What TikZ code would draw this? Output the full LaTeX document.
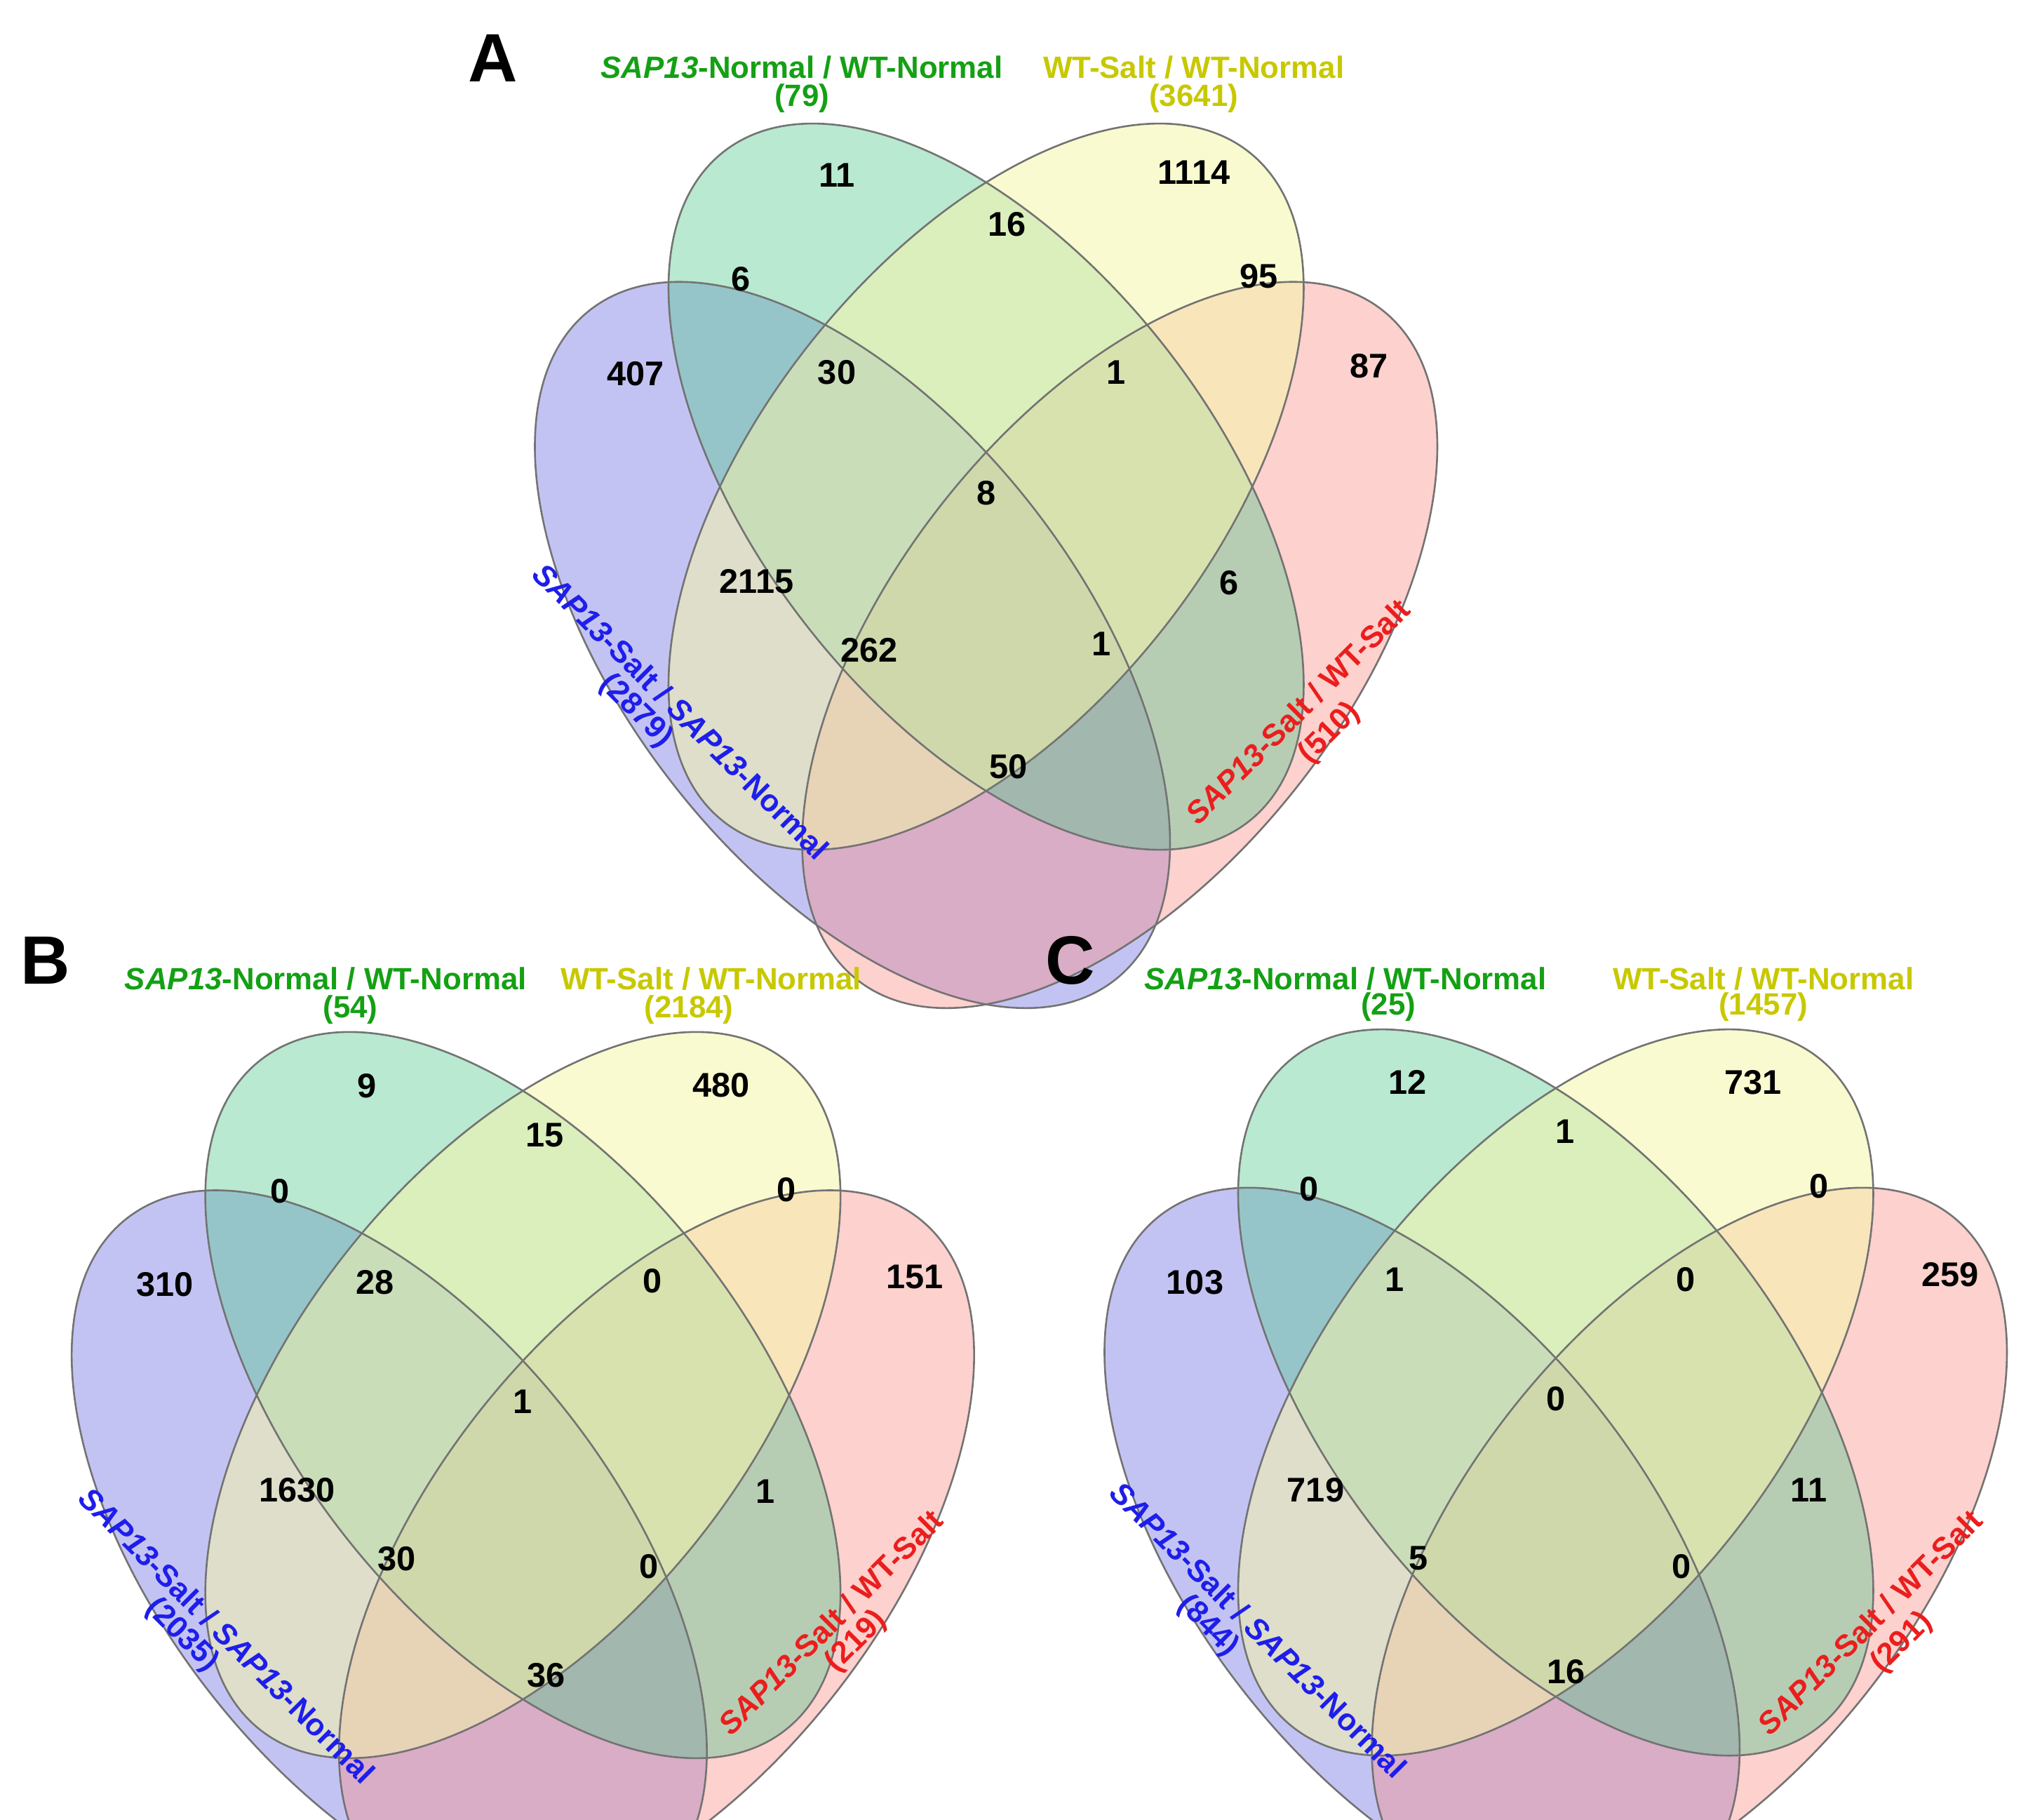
\documentclass[tikz,border=0pt]{standalone}
\usepackage{fontspec}
\setmainfont{Liberation Sans}
\begin{document}
\begin{tikzpicture}[x=0.02cm,y=-0.02cm,
  num/.style={font=\bfseries\fontsize{15}{17}\selectfont},
  lab/.style={font=\bfseries\fontsize{13.5}{15}\selectfont,inner sep=0pt},
  letter/.style={font=\bfseries\fontsize{30}{32}\selectfont},
  ell/.style={fill opacity=0.4},
  edge/.style={draw=black!55,line width=0.8pt},
]
\definecolor{cB}{RGB}{105,105,225}
\definecolor{cG}{RGB}{80,200,140}
\definecolor{cY}{RGB}{245,245,170}
\definecolor{cR}{RGB}{250,140,130}
\definecolor{tG}{RGB}{20,160,20}
\definecolor{tY}{RGB}{200,200,0}
\definecolor{tB}{RGB}{30,30,235}
\definecolor{tR}{RGB}{235,30,30}
\useasboundingbox (0,0) rectangle (1563,1402);
\newcommand{\vennshapes}{%
  \fill[ell,cB] [shift={(-103,117)},rotate=-51.9] (0,0) ellipse [x radius=6.56cm,y radius=3.5cm];
  \fill[ell,cR] [shift={(103,117)},rotate=51.9] (0,0) ellipse [x radius=6.56cm,y radius=3.5cm];
  \fill[ell,cG] [shift={(0,-5)},rotate=-51.9] (0,0) ellipse [x radius=6.56cm,y radius=3.5cm];
  \fill[ell,cY,fill opacity=0.55] [shift={(0,-5)},rotate=51.9] (0,0) ellipse [x radius=6.56cm,y radius=3.5cm];
  \draw[edge] [shift={(-103,117)},rotate=-51.9] (0,0) ellipse [x radius=6.56cm,y radius=3.5cm];
  \draw[edge] [shift={(103,117)},rotate=51.9] (0,0) ellipse [x radius=6.56cm,y radius=3.5cm];
  \draw[edge] [shift={(0,-5)},rotate=-51.9] (0,0) ellipse [x radius=6.56cm,y radius=3.5cm];
  \draw[edge] [shift={(0,-5)},rotate=51.9] (0,0) ellipse [x radius=6.56cm,y radius=3.5cm];
}
\newcommand{\vennnums}[2]{%
  \foreach \n/\x/\y [count=\i] in {#2}{\node[num] (#1n\i) at (\x,\y) {\n};}
}
% Panel A
\begin{scope}[shift={(760,380)}]
\vennshapes
\vennnums{A}{11/-115/-245,16/16/-207,1114/160/-247,6/-189/-165,30/-115/-93,1/100/-93,95/210/-167,407/-270/-92,87/295/-98,8/0/0,2115/-177/68,6/187/69,262/-90/121,1/89/116,50/17/211}
\node[lab,tG] (Ag1) at (-142,-328) {\textit{SAP13}-Normal / WT-Normal};
\node[lab,tG] (Ag2) at (-142,-304) {(79)};
\node[lab,tY] (Ay1) at (160,-328) {WT-Salt / WT-Normal};
\node[lab,tY] (Ay2) at (160,-304) {(3641)};
\node[lab,tB,rotate=-45] (Ab1) at (-235,168) {\textit{SAP13}-Salt / \textit{SAP13}-Normal};
\node[lab,tB,rotate=-45] (Ab2) at (-270,168) {(2879)};
\node[lab,tR,rotate=45] (Ar1) at (240,168) {\textit{SAP13}-Salt / WT-Salt};
\node[lab,tR,rotate=45] (Ar2) at (265,185) {(510)};
\end{scope}
\node[letter] (LA) at (380,45) {A};
% Panel B
\begin{scope}[shift={(403,1080)}]
\vennshapes
\vennnums{B}{9/-120/-243,15/17/-205,480/153/-244,0/-187/-162,28/-114/-92,0/100/-93,0/203/-163,310/-276/-90,151/302/-96,1/0/0,1630/-174/68,1/187/69,30/-97/121,0/97/127,36/18/211}
\node[lab,tG] (Bg1) at (-152,-326) {\textit{SAP13}-Normal / WT-Normal};
\node[lab,tG] (Bg2) at (-133,-302) {(54)};
\node[lab,tY] (By1) at (145,-326) {WT-Salt / WT-Normal};
\node[lab,tY] (By2) at (128,-302) {(2184)};
\node[lab,tB,rotate=-45] (Bb1) at (-228,180) {\textit{SAP13}-Salt / \textit{SAP13}-Normal};
\node[lab,tB,rotate=-45] (Bb2) at (-263,180) {(2035)};
\node[lab,tR,rotate=45] (Br1) at (237,170) {\textit{SAP13}-Salt / WT-Salt};
\node[lab,tR,rotate=45] (Br2) at (257,185) {(219)};
\end{scope}
\node[letter] (LB) at (35,740) {B};
% Panel C
\begin{scope}[shift={(1199,1078)}]
\vennshapes
\vennnums{C}{12/-114/-244,1/7/-206,731/152/-244,0/-190/-162,1/-124/-92,0/100/-92,0/203/-164,103/-278/-90,259/304/-96,0/0/0,719/-185/70,11/195/70,5/-106/123,0/97/129,16/8/210}
\node[lab,tG] (Cg1) at (-162,-324) {\textit{SAP13}-Normal / WT-Normal};
\node[lab,tG] (Cg2) at (-129,-302) {(25)};
\node[lab,tY] (Cy1) at (160,-324) {WT-Salt / WT-Normal};
\node[lab,tY] (Cy2) at (160,-302) {(1457)};
\node[lab,tB,rotate=-45] (Cb1) at (-229,178) {\textit{SAP13}-Salt / \textit{SAP13}-Normal};
\node[lab,tB,rotate=-45] (Cb2) at (-268,175) {(844)};
\node[lab,tR,rotate=45] (Cr1) at (242,172) {\textit{SAP13}-Salt / WT-Salt};
\node[lab,tR,rotate=45] (Cr2) at (267,188) {(291)};
\end{scope}
\node[letter] (LC) at (825,740) {C};
\end{tikzpicture}
\end{document}
